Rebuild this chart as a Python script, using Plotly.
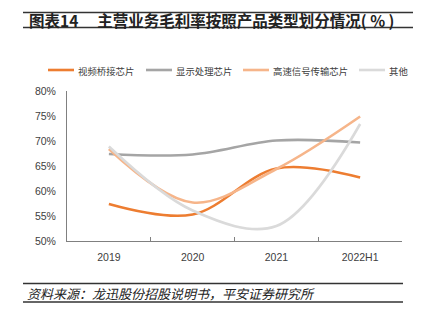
import plotly.graph_objects as go

categories = ["2019", "2020", "2021", "2022H1"]
video_bridge = [57.4, 55.3, 64.5, 62.7]
display_proc = [67.4, 67.3, 70.1, 69.7]
high_speed = [68.4, 57.7, 64.4, 74.9]
others = [68.9, 56.1, 53.0, 73.4]
series_names = ["视频桥接芯片", "显示处理芯片", "高速信号传输芯片", "其他"]
y_ticks = [50, 55, 60, 65, 70, 75, 80]
y_tick_text = ["50%", "55%", "60%", "65%", "70%", "75%", "80%"]

W, H = 430, 321
L, R, T, B = 67, 402, 91, 241


def xp(px):
    return (px - L) / (R - L)


def yp(py):
    return (B - py) / (B - T)


FONT = "Liberation Sans, Arial, Noto Sans CJK SC"
CJK = "Noto Sans CJK SC, Liberation Sans"

colors = ["#ED7D31", "#A5A5A5", "#F6B58A", "#DADADA"]
fig = go.Figure()
for name, vals, c in zip(series_names, [video_bridge, display_proc, high_speed, others], colors):
    fig.add_trace(go.Scatter(
        x=categories, y=vals, name=name, mode="lines",
        line=dict(color=c, width=2.6, shape="spline", smoothing=1.0),
    ))

fig.update_layout(
    width=W, height=H,
    margin=dict(l=L, r=W - R, t=T, b=H - B, pad=0),
    paper_bgcolor="white", plot_bgcolor="white",
    font=dict(family=FONT, size=10, color="#404040"),
    showlegend=False,
)
fig.update_xaxes(
    type="category", range=[-0.5, 3.5], showgrid=False, zeroline=False,
    showline=True, linecolor="#808080", linewidth=1,
    ticks="inside", ticklen=4, tickcolor="#808080", tickson="boundaries",
    tickfont=dict(size=10.5, color="#404040"), ticklabelstandoff=6,
)
fig.update_yaxes(
    range=[50, 80], tickmode="array", tickvals=y_ticks, ticktext=y_tick_text,
    showgrid=False, zeroline=False,
    showline=True, linecolor="#808080", linewidth=1, ticks="",
    tickfont=dict(size=10.5, color="#404040"), ticklabelstandoff=8,
)

# Manual legend
leg_line_x = [48, 146, 243, 359]
for name, c, lx in zip(series_names, colors, leg_line_x):
    fig.add_shape(type="line", xref="paper", yref="paper", x0=xp(lx), x1=xp(lx + 26),
                  y0=yp(70), y1=yp(70), line=dict(color=c, width=2.6))
    fig.add_annotation(xref="paper", yref="paper", x=xp(lx + 28), y=yp(70.5), xanchor="left",
                       yanchor="middle", text=name, showarrow=False,
                       font=dict(family=CJK, size=9.4, color="#404040"))

# Title with rules
fig.add_shape(type="line", xref="paper", yref="paper", x0=xp(23), x1=xp(413), y0=yp(12.5), y1=yp(12.5),
              line=dict(color="#333333", width=1.6))
fig.add_shape(type="line", xref="paper", yref="paper", x0=xp(23), x1=xp(413), y0=yp(27.5), y1=yp(27.5),
              line=dict(color="#333333", width=1.6))
fig.add_annotation(xref="paper", yref="paper", x=xp(27), y=yp(20), xanchor="left", yanchor="middle",
                   text="<b>图表14</b>\u3000 <b>主营业务毛利率按照产品类型划分情况( % )</b>", showarrow=False,
                   font=dict(family=CJK, size=15.5, color="#222222"))

# Source with rules
fig.add_shape(type="line", xref="paper", yref="paper", x0=xp(23), x1=xp(403), y0=yp(283.5), y1=yp(283.5),
              line=dict(color="#333333", width=1.4))
fig.add_shape(type="line", xref="paper", yref="paper", x0=xp(23), x1=xp(403), y0=yp(302), y1=yp(302),
              line=dict(color="#333333", width=1.4))
fig.add_annotation(xref="paper", yref="paper", x=xp(25), y=yp(293), xanchor="left", yanchor="middle",
                   text="资料来源：龙迅股份招股说明书，平安证券研究所", showarrow=False,
                   font=dict(family=CJK, size=13, color="#222222", style="italic"))

fig.write_html("out.html")
